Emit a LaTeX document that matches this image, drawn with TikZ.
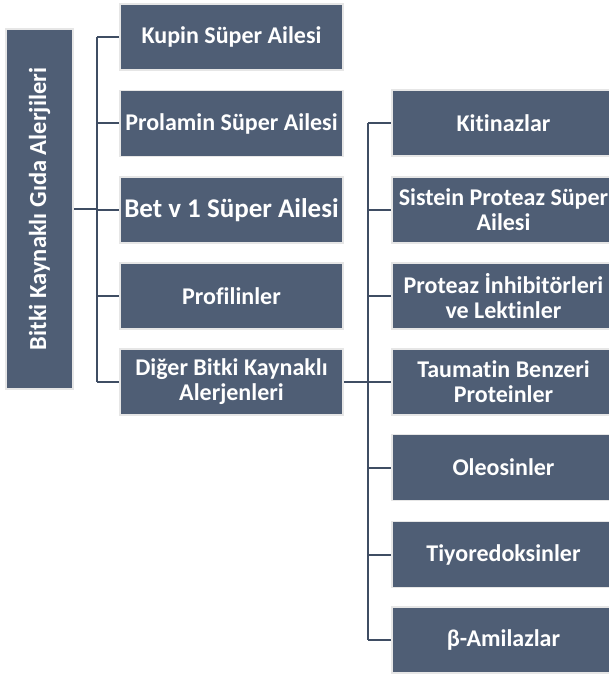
\documentclass[tikz,border=0pt]{standalone}
\usepackage{fontspec}
\setmainfont{Carlito}[Ligatures=NoCommon]
\definecolor{slate}{HTML}{4F5E75}
\definecolor{rim}{HTML}{E6E6E6}
\definecolor{wire}{HTML}{3F4D63}
\begin{document}
\begin{tikzpicture}[x=1pt,y=-1pt,
    box/.style = {rectangle,
        fill=slate, draw=rim, line width=1.5pt,
        minimum width=223pt, minimum height=66pt,
        inner sep=0pt, align=center,
        text=white, font=\bfseries\fontsize{24}{25}\selectfont},
    link/.style = {draw=wire, line width=2pt}]

\useasboundingbox (0,0) rectangle (609,674);

% Root
\node[box, minimum width=360pt, minimum height=67pt, rotate=90,
    font=\bfseries\fontsize{24.5}{26}\selectfont] (root) at (39.5,209) {Bitki Kaynakl\i{} G\i{}da Alerjileri};

% Middle column
\node[box] (kupin) at (231.5,37) {Kupin Süper Ailesi};
\node[box] (prolamin) at (231.5,123.5) {Prolamin Süper Ailesi};
\node[box, font=\bfseries\fontsize{27}{28}\selectfont] (betv) at (231.5,210) {Bet v 1 Süper Ailesi};
\node[box] (profilin) at (231.5,296) {Profilinler};
\node[box] (diger) at (231.5,382) {Diğer Bitki Kaynakl\i\\Alerjenleri};

% Right column
\node[box] (kitinaz) at (503.5,123) {Kitinazlar};
\node[box] (sistein) at (503.5,210) {Sistein Proteaz Süper\\Ailesi};
\node[box] (proteaz) at (503.5,296) {Proteaz İnhibitörleri\\ve Lektinler};
\node[box] (taumatin) at (503.5,382) {Taumatin Benzeri\\Proteinler};
\node[box] (oleosin) at (503.5,467.5) {Oleosinler};
\node[box] (tiyored) at (503.5,554.5) {Tiyoredoksinler};
\node[box] (amilaz) at (503.5,640) {β-Amilazlar};

% Connectors
\coordinate (busA) at (97,209);
\coordinate (busB) at (368,382);
\draw[link] (root.south) -- (busA);
\draw[link] (busA |- kupin) -- (busA |- diger);
\foreach \n in {kupin,prolamin,betv,profilin,diger}
    \draw[link] (busA |- \n) -- (\n.west);
\draw[link] (diger.east) -- (busB);
\draw[link] (busB |- kitinaz) -- (busB |- amilaz);
\foreach \n in {kitinaz,sistein,proteaz,taumatin,oleosin,tiyored,amilaz}
    \draw[link] (busB |- \n) -- (\n.west);

\end{tikzpicture}
\end{document}
